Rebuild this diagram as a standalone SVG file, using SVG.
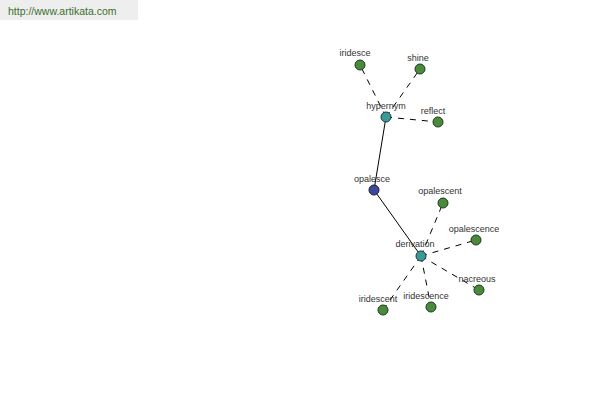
<svg xmlns="http://www.w3.org/2000/svg" width="600" height="400" viewBox="0 0 600 400">
<style>
text{font-family:"Liberation Sans",Arial,sans-serif;font-size:9px;fill:#333;text-anchor:middle}
.leaf{fill:#4a8a3c;stroke:#1e3a1a;stroke-width:1}
.rel{fill:#3a9a98;stroke:#1a3a3a;stroke-width:1}
.root{fill:#3c4a9a;stroke:#1a1a3a;stroke-width:1}
.d{stroke:#000;stroke-width:1;stroke-dasharray:6,6;fill:none}
.s{stroke:#000;stroke-width:1;fill:none}
</style>
<rect x="0" y="0" width="600" height="400" fill="#fff"/>
<rect x="0" y="0" width="138" height="20" fill="#eeeeee"/>
<text x="8" y="15" style="text-anchor:start;font-size:10.5px;fill:#3c6e2c">http://www.artikata.com</text>
<g id="connectors">
<line class="s" x1="386" y1="117" x2="374" y2="190"/>
<line class="s" x1="374" y1="190" x2="421" y2="256"/>
<line class="d" x1="386" y1="117" x2="360" y2="65"/>
<line class="d" x1="386" y1="117" x2="420" y2="69"/>
<line class="d" x1="386" y1="117" x2="438" y2="122"/>
<line class="d" x1="421" y1="256" x2="443" y2="203"/>
<line class="d" x1="421" y1="256" x2="476" y2="240"/>
<line class="d" x1="421" y1="256" x2="479" y2="290"/>
<line class="d" x1="421" y1="256" x2="431" y2="307"/>
<line class="d" x1="421" y1="256" x2="383" y2="310"/>
</g>
<g id="iridesce"><circle class="leaf" cx="360" cy="65" r="5"/><text x="355" y="56">iridesce</text></g>
<g id="shine"><circle class="leaf" cx="420" cy="69" r="5"/><text x="418" y="61">shine</text></g>
<g id="hypernym"><circle class="rel" cx="386" cy="117" r="5"/><text x="386" y="109">hypernym</text></g>
<g id="reflect"><circle class="leaf" cx="438" cy="122" r="5"/><text x="433" y="114">reflect</text></g>
<g id="opalesce"><circle class="root" cx="374" cy="190" r="5"/><text x="372" y="182">opalesce</text></g>
<g id="opalescent"><circle class="leaf" cx="443" cy="203" r="5"/><text x="440" y="194">opalescent</text></g>
<g id="opalescence"><circle class="leaf" cx="476" cy="240" r="5"/><text x="474" y="232">opalescence</text></g>
<g id="derivation"><circle class="rel" cx="421" cy="256" r="5"/><text x="415" y="247">derivation</text></g>
<g id="nacreous"><circle class="leaf" cx="479" cy="290" r="5"/><text x="477" y="282">nacreous</text></g>
<g id="iridescence"><circle class="leaf" cx="431" cy="307" r="5"/><text x="426" y="299">iridescence</text></g>
<g id="iridescent"><circle class="leaf" cx="383" cy="310" r="5"/><text x="378" y="302">iridescent</text></g>
</svg>
